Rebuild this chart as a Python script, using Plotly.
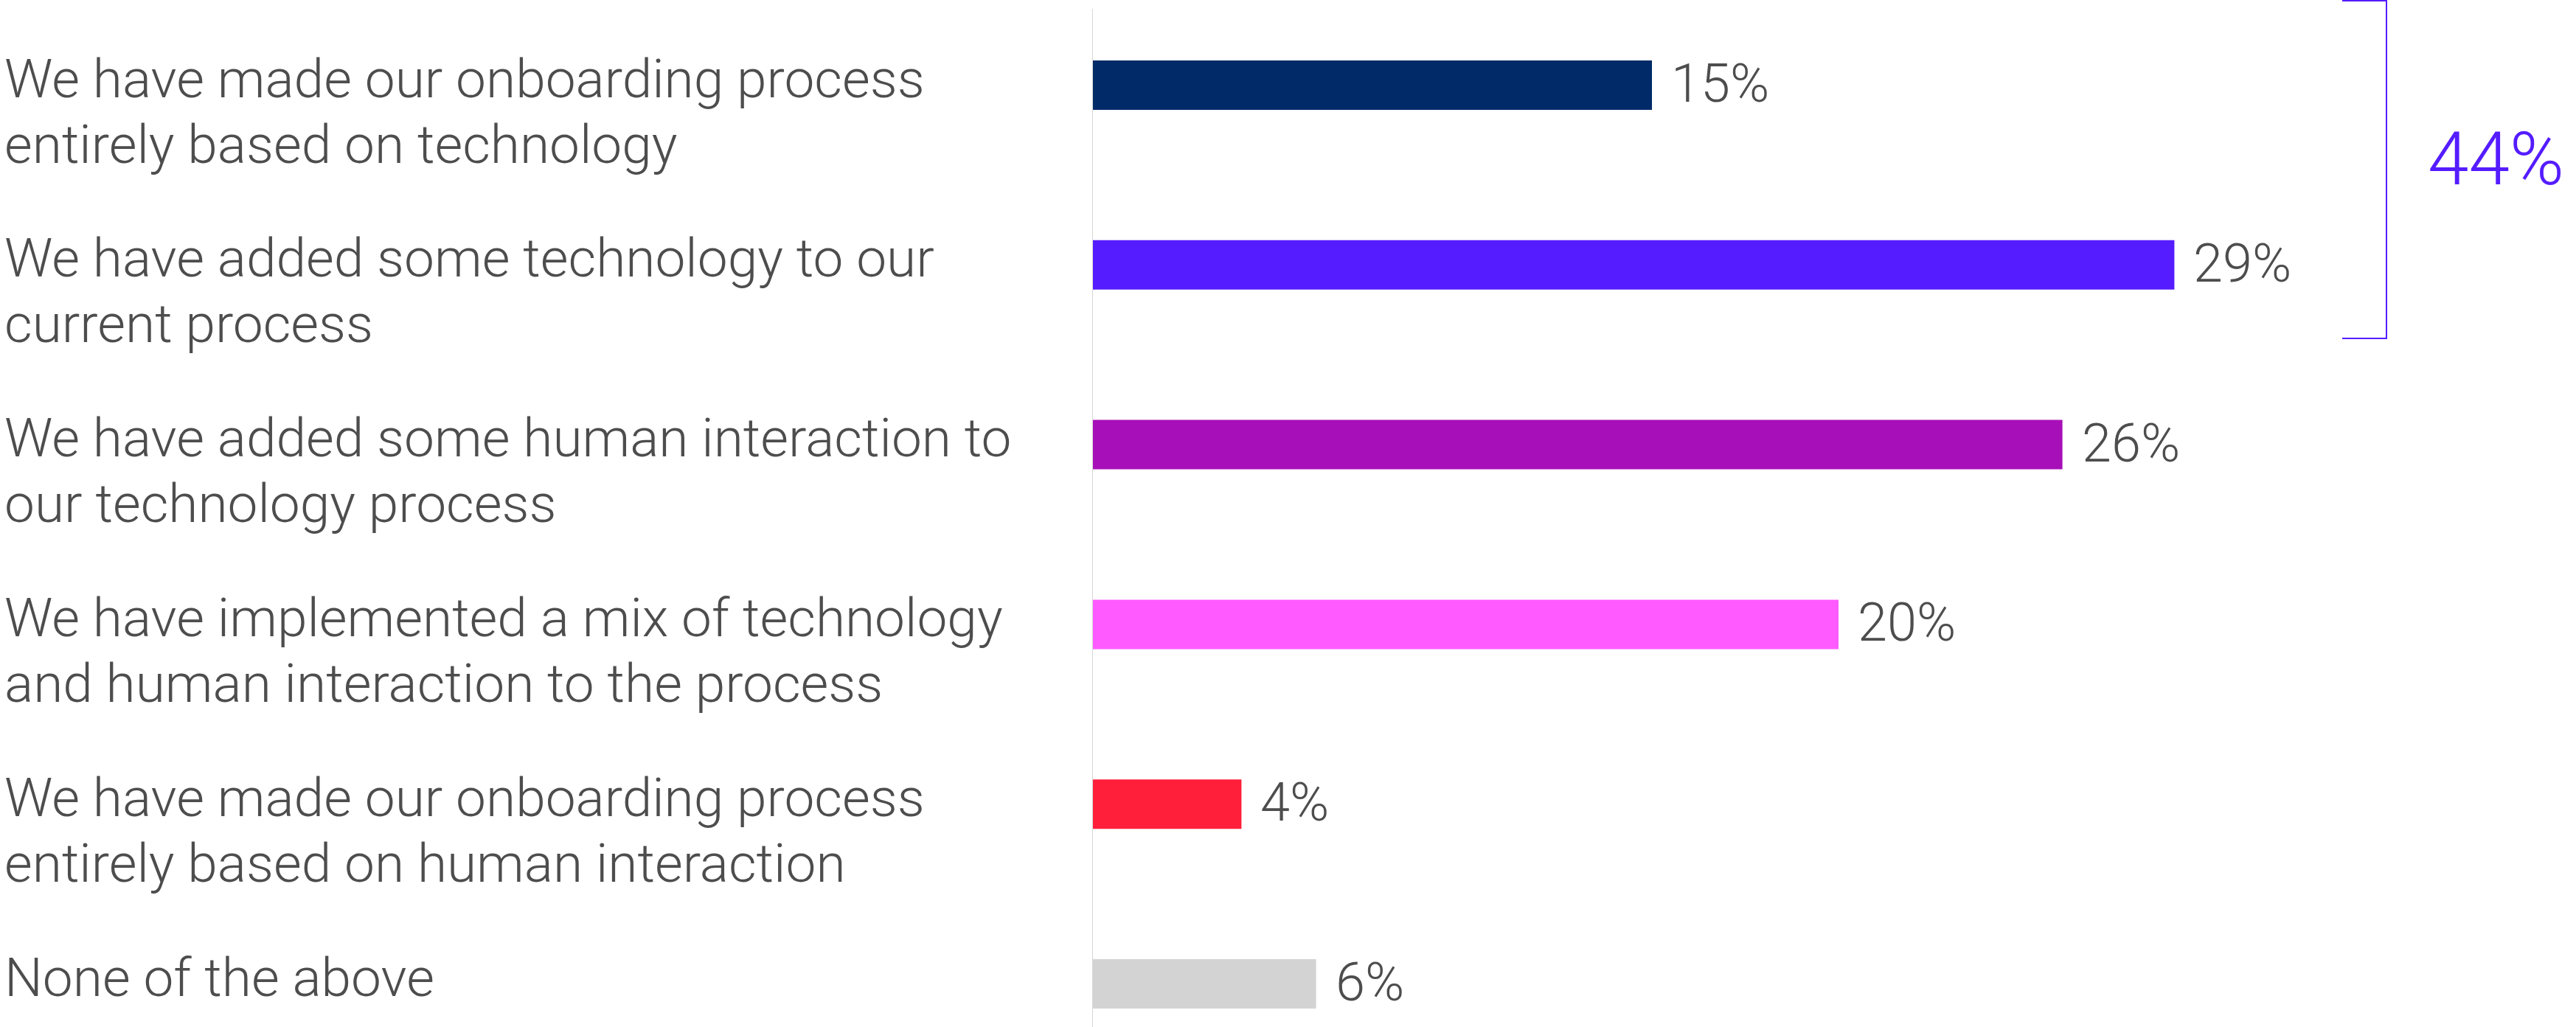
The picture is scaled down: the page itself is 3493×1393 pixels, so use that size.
import plotly.graph_objects as go

# Survey responses: how the onboarding process has changed
categories = [
    "We have made our onboarding process<br>entirely based on technology",
    "We have added some technology to our<br>current process",
    "We have added some human interaction to<br>our technology process",
    "We have implemented a mix of technology<br>and human interaction to the process",
    "We have made our onboarding process<br>entirely based on human interaction",
    "None of the above",
]
values = [15, 29, 26, 20, 4, 6]
bar_colors = ["#002A68", "#551CFF", "#A70FB8", "#FF5AFF", "#FF1F3A", "#D3D3D3"]

# The bracket groups the first two technology-led answers
bracket_total = values[0] + values[1]

W, H = 3493, 1393
LEFT = 1481
PLOT_W = W - LEFT
PX_PER_PCT = 50.6
ROW_PX = 243.8
FIRST_ROW_PX = 115.5
LINE_GAP = 89

TEXT_GREY = "#4D4D4D"
ACCENT = "#551CFF"
FONT = "Roboto"

fig = go.Figure(
    go.Bar(
        x=values,
        y=categories,
        orientation="h",
        marker=dict(color=bar_colors, line=dict(width=0)),
        width=67 / ROW_PX,
        hoverinfo="skip",
    )
)

annotations = []
for cat, val in zip(categories, values):
    # category label, one line at a time, first line level with its bar
    for k, line in enumerate(cat.split("<br>")):
        annotations.append(dict(
            x=-LEFT / PLOT_W + 4 / PLOT_W, xref="paper", xanchor="left",
            y=cat, yref="y", yanchor="middle",
            yshift=9 - k * LINE_GAP,
            text=line, showarrow=False, align="left",
            font=dict(family=FONT, size=73, color=TEXT_GREY, weight=300),
        ))
    # value label at the end of the bar
    annotations.append(dict(
        x=val, xref="x", xanchor="left", xshift=24,
        y=cat, yref="y", yanchor="middle", yshift=2,
        text=f"{val}%", showarrow=False,
        font=dict(family=FONT, size=72, color=TEXT_GREY, weight=300),
    ))

bx0 = (3176 - LEFT) / PLOT_W
bx1 = (3236 - LEFT) / PLOT_W
by0 = 1 - 1 / H
by1 = 1 - 459 / H
annotations.append(dict(
    x=(3290 - LEFT) / PLOT_W, xref="paper", xanchor="left",
    y=(by0 + by1) / 2 + 14 / H, yref="paper", yanchor="middle",
    text=f"{bracket_total}%", showarrow=False,
    font=dict(family=FONT, size=100, color=ACCENT, weight=300),
))

shapes = [
    # baseline axis
    dict(type="line", xref="x", yref="paper", x0=0, x1=0, y0=0, y1=1 - 12 / H,
         line=dict(color="#D6D6D6", width=2)),
    # bracket around the first two bars
    dict(type="path", xref="paper", yref="paper",
         path=f"M {bx0},{by0} L {bx1},{by0} L {bx1},{by1} L {bx0},{by1}",
         line=dict(color=ACCENT, width=2)),
]

y_top = -FIRST_ROW_PX / ROW_PX
y_bottom = (H - FIRST_ROW_PX) / ROW_PX

fig.update_layout(
    width=W, height=H,
    margin=dict(l=LEFT, r=0, t=0, b=0, pad=0),
    paper_bgcolor="white", plot_bgcolor="white",
    showlegend=False,
    xaxis=dict(range=[0, PLOT_W / PX_PER_PCT], visible=False, fixedrange=True),
    yaxis=dict(type="category", categoryarray=categories, range=[y_bottom, y_top],
               visible=False, fixedrange=True),
    annotations=annotations,
    shapes=shapes,
    font=dict(family=FONT, color=TEXT_GREY),
)

fig.write_html("out.html", config={"displayModeBar": False})
